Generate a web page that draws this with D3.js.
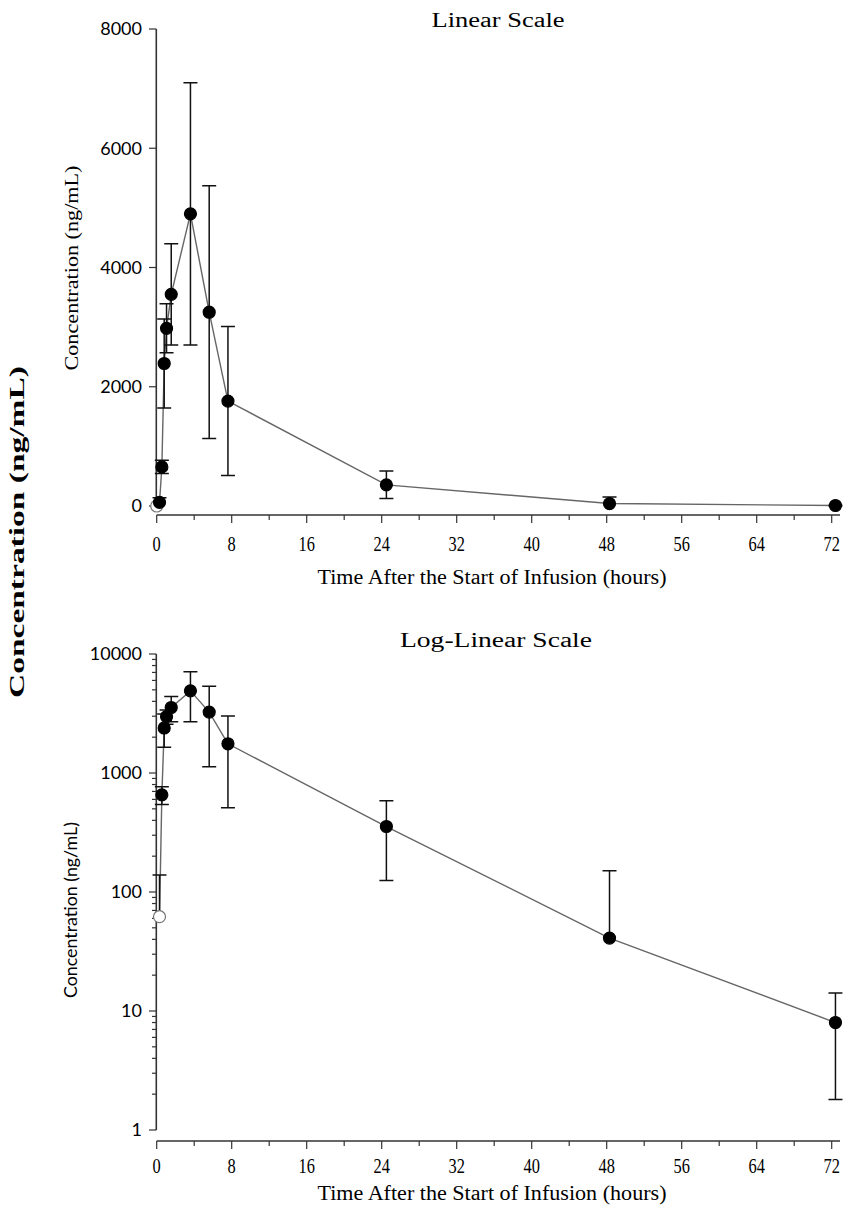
<!DOCTYPE html>
<html>
<head>
<meta charset="utf-8">
<script src="https://cdn.jsdelivr.net/npm/d3@7"></script>
<style>
  body { margin: 0; background: #fff; }
  svg { display: block; }
</style>
</head>
<body>
<svg width="854" height="1212"></svg>
<script>
// sampling times (h), mean concentration and SD (ng/mL)
const times = [0.3, 0.55, 0.8, 1.05, 1.55, 3.6, 5.6, 7.6, 24.5, 48.3, 72.4];
const means = [62, 655, 2390, 2980, 3550, 4900, 3250, 1760, 355, 41, 8];
const sds = [77, 112, 745, 410, 850, 2200, 2120, 1250, 230, 110, 6.2];
// pre-dose sample, only shown on the linear plot
const predose = { t: 0, c: 0 };

const xTicks = [0, 8, 16, 24, 32, 40, 48, 56, 64, 72];
const linTicks = [0, 2000, 4000, 6000, 8000];
const logTicks = [1, 10, 100, 1000, 10000];

const svg = d3.select("svg");
const serif = "'Liberation Serif', 'Times New Roman', serif";
const sans = "Lato, 'Open Sans', sans-serif";

const x = d3.scaleLinear().domain([0, 72]).range([156.7, 831.7]);

const data = times.map((t, i) => ({ t, c: means[i], sd: sds[i], open: false }));

function label(g, txt, cx, cy, size, len, opts = {}) {
  const t = g.append("text")
    .attr("x", cx).attr("y", cy)
    .attr("text-anchor", "middle")
    .attr("font-family", opts.font || serif)
    .attr("font-size", size)
    .attr("font-weight", opts.weight || "normal")
    .attr("textLength", len)
    .attr("lengthAdjust", "spacingAndGlyphs")
    .text(txt);
  if (opts.rotate) t.attr("transform", `rotate(-90, ${cx}, ${cy})`);
  return t;
}

function xAxis(axisY, lblY) {
  const g = svg.append("g");
  g.append("line")
    .attr("x1", x(0)).attr("x2", 840)
    .attr("y1", axisY).attr("y2", axisY)
    .attr("stroke", "#333").attr("stroke-width", 1.6);
  g.selectAll(".minor")
    .data(d3.range(4, 72, 8))
    .join("line")
    .attr("x1", d => x(d)).attr("x2", d => x(d))
    .attr("y1", axisY).attr("y2", axisY + 5)
    .attr("stroke", "#333").attr("stroke-width", 1.2);
  g.selectAll(".major")
    .data(xTicks)
    .join("line")
    .attr("x1", d => x(d)).attr("x2", d => x(d))
    .attr("y1", axisY).attr("y2", axisY + 8)
    .attr("stroke", "#333").attr("stroke-width", 1.2);
  g.selectAll(".lbl")
    .data(xTicks)
    .join("text")
    .attr("x", d => x(d)).attr("y", lblY)
    .attr("text-anchor", "middle")
    .attr("font-family", serif).attr("font-size", 20)
    .attr("transform", d => `translate(${x(d)},0) scale(0.82,1) translate(${-x(d)},0)`)
    .text(d => d);
}

function yAxis(y, ticks, minor, top, bottom, fmt) {
  const g = svg.append("g");
  g.append("line")
    .attr("x1", 156.3).attr("x2", 156.3)
    .attr("y1", top).attr("y2", bottom)
    .attr("stroke", "#333").attr("stroke-width", 1.6);
  g.selectAll(".minor")
    .data(minor)
    .join("line")
    .attr("x1", 156.3).attr("x2", 152)
    .attr("y1", d => y(d)).attr("y2", d => y(d))
    .attr("stroke", "#333").attr("stroke-width", 1.2);
  g.selectAll(".major")
    .data(ticks)
    .join("line")
    .attr("x1", 156.3).attr("x2", 149)
    .attr("y1", d => y(d)).attr("y2", d => y(d))
    .attr("stroke", "#333").attr("stroke-width", 1.2);
  g.selectAll(".lbl")
    .data(ticks)
    .join("text")
    .attr("x", 142).attr("y", d => y(d))
    .attr("dy", "0.36em")
    .attr("text-anchor", "end")
    .attr("font-family", sans).attr("font-size", 18)
    .text(fmt);
}

function series(y, pts) {
  const g = svg.append("g");
  const line = d3.line().x(d => x(d.t)).y(d => y(d.c));
  g.append("path")
    .attr("d", line(pts))
    .attr("fill", "none")
    .attr("stroke", "#666").attr("stroke-width", 1.4);
  g.selectAll(".err")
    .data(pts.filter(d => d.sd))
    .join("path")
    .attr("d", d => {
      const cx = x(d.t), y1 = y(d.c + d.sd);
      const low = d.c - d.sd > 0 ? y(d.c - d.sd) : null;
      let p = `M${cx},${y1}L${cx},${low === null ? y(d.c) : low}M${cx - 7},${y1}L${cx + 7},${y1}`;
      if (low !== null) p += `M${cx - 7},${low}L${cx + 7},${low}`;
      return p;
    })
    .attr("fill", "none")
    .attr("stroke", "#111").attr("stroke-width", 1.5);
  g.selectAll("circle")
    .data(pts)
    .join("circle")
    .attr("cx", d => x(d.t)).attr("cy", d => y(d.c))
    .attr("r", 6)
    .attr("fill", d => d.open ? "#fff" : "#000")
    .attr("stroke", d => d.open ? "#777" : "#000")
    .attr("stroke-width", 1.2);
}

// ---------- linear scale ----------
const yLin = d3.scaleLinear().domain([0, 8000]).range([506, 29]);
xAxis(515, 551);
yAxis(yLin, linTicks, [], 29, 506, d => d);
series(yLin, [Object.assign({ open: true }, predose)].concat(data));
label(svg, "Linear Scale", 498, 27, 20, 133);
label(svg, "Time After the Start of Infusion (hours)", 492, 584, 20, 349);
label(svg, "Concentration (ng/mL)", 78, 268, 19, 205, { rotate: true });

// ---------- log-linear scale ----------
const yLog = d3.scaleLog().domain([1, 10000]).range([1130, 654]);
const logMinor = [];
[1, 10, 100, 1000].forEach(b => { for (let k = 2; k < 10; k++) logMinor.push(b * k); });
xAxis(1141, 1173);
yAxis(yLog, logTicks, logMinor, 654, 1130, d => d);
series(yLog, data.map((d, i) => i === 0 ? Object.assign({}, d, { open: true }) : d));
label(svg, "Log-Linear Scale", 496, 647, 20, 192);
label(svg, "Time After the Start of Infusion (hours)", 492, 1200, 20, 349);
label(svg, "Concentration (ng/mL)", 77, 910, 17, 176, { font: sans, rotate: true });

// shared outer title
label(svg, "Concentration (ng/mL)", 24, 532, 21, 332, { weight: "bold", rotate: true });
</script>
</body>
</html>
